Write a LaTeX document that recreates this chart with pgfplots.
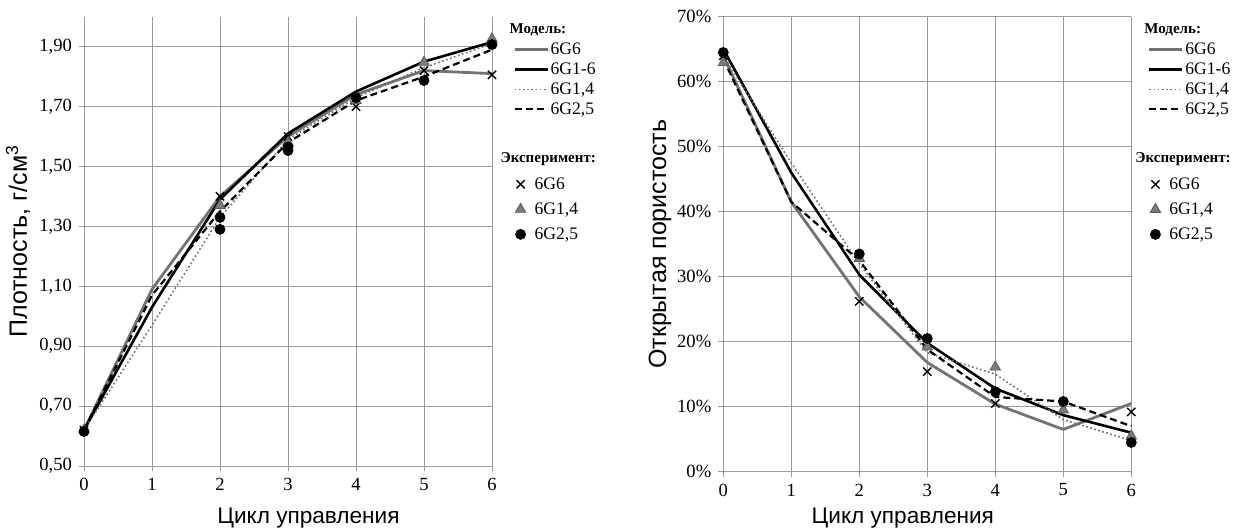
\documentclass[border=0pt]{standalone}
\usepackage{fontspec}
\setmainfont{Liberation Serif}
\setsansfont{Liberation Sans}
\usepackage{pgfplots}
\pgfplotsset{compat=1.18}

\definecolor{modelgray}{HTML}{737373}
\definecolor{dotgray}{HTML}{6E6E6E}
\definecolor{gridgray}{HTML}{9A9A9A}
\definecolor{trigray}{HTML}{5A5A5A}

% legend row struts
\newcommand\hdA{\rule[-3.1pt]{0pt}{9.1pt}}
\newcommand\hdB{\rule[-4.45pt]{0pt}{26.25pt}}
\newcommand\rwM{\rule[-2.2pt]{0pt}{10pt}}
\newcommand\rwE{\rule[-3.45pt]{0pt}{12.5pt}}
\newcommand\hfont{\fontsize{7.5}{8.5}\selectfont\bfseries}

\pgfplotsset{
  chart/.style={
    scale only axis, width=204pt,
    xmin=0, xmax=6, xtick={0,1,2,3,4,5,6},
    grid=major, grid style={gridgray, line width=0.5pt},
    axis x line*=bottom, axis y line*=left,
    axis line style={gridgray, line width=0.5pt, -},
    tick style={gridgray, line width=0.5pt},
    tick align=outside, major tick length=2.5pt,
    tick label style={font=\fontsize{9.3}{11}\selectfont},
    /pgf/number format/assume math mode=true,
    xlabel style={font=\sffamily\fontsize{11.3}{13}\selectfont},
    ylabel style={font=\sffamily\fontsize{12.5}{14}\selectfont},
    legend cell align=left,
    legend style={draw=none, fill=none, inner xsep=0pt, inner ysep=0pt,
      font=\fontsize{8.8}{10}\selectfont, anchor=north west,
      nodes={inner xsep=0.8pt, inner ysep=0pt, text depth=}},
    clip=false,
  },
  mod66/.style={modelgray, line width=1.4pt},
  mod16/.style={black, line width=1.3pt},
  mod14/.style={dotgray, line width=0.8pt, dash pattern=on 0.8pt off 1.3pt},
  mod25/.style={black, line width=1.1pt, dash pattern=on 3.5pt off 2pt},
  exp66/.style={only marks, mark=x, mark size=2.9pt, mark options={black, line width=0.7pt}},
  exp14/.style={only marks, mark=triangle*, mark size=3pt, mark options={draw=trigray, fill=trigray!80}},
  exp25/.style={only marks, mark=*, mark size=2.5pt, mark options={black}},
  lineleg/.style={legend image code/.code={\draw[##1] (0pt,0pt) -- (16.5pt,0pt);}},
  markleg/.style={legend image code/.code={\draw[##1] plot coordinates {(3pt,0pt)};}},
}

\begin{document}
\begin{tikzpicture}
\path[use as bounding box] (0,0) rectangle (623pt,265pt);

% density
\begin{axis}[chart, at={(42pt,32pt)}, anchor=south west,
  height=224.65pt,
  ymin=0.5, ymax=2.0, ytick={0.5,0.7,0.9,1.1,1.3,1.5,1.7,1.9},
  yticklabel style={/pgf/number format/fixed, /pgf/number format/fixed zerofill,
    /pgf/number format/precision=2, /pgf/number format/use comma},
  xlabel={Цикл управления}, ylabel={Плотность, г/см\textsuperscript{3}},
  xlabel style={at={(axis description cs:0.55,-0.116)}, anchor=center},
  ylabel style={at={(axis description cs:-0.162,0.5)}, anchor=center},
  legend style={at={(axis description cs:1.051,0.991)}},
]
\addplot[mod66, forget plot] coordinates {(0,0.62)(1,1.09)(2,1.40)(3,1.60)(4,1.74)(5,1.82)(6,1.81)};
\addplot[mod16, forget plot] coordinates {(0,0.62)(1,1.03)(2,1.39)(3,1.61)(4,1.75)(5,1.85)(6,1.915)};
\addplot[mod14, forget plot] coordinates {(0,0.62)(1,0.97)(2,1.33)(3,1.59)(4,1.73)(5,1.83)(6,1.91)};
\addplot[mod25, forget plot] coordinates {(0,0.62)(1,1.07)(2,1.35)(3,1.58)(4,1.72)(5,1.80)(6,1.89)};
\addplot[exp66, forget plot] coordinates {(0,0.62)(2,1.40)(3,1.60)(4,1.70)(5,1.82)(6,1.806)};
\addplot[exp14, forget plot] coordinates {(0,0.62)(2,1.37)(3,1.58)(4,1.72)(5,1.848)(6,1.926)};
\addplot[exp25, forget plot] coordinates {(0,0.615)(2,1.33)(2,1.29)(3,1.565)(3,1.553)(4,1.73)(5,1.787)(6,1.907)};

\addlegendimage{empty legend}\addlegendentry{\hspace*{-20.5pt}\hdA\hfont Модель:}
\addlegendimage{lineleg, mod66}\addlegendentry{\rwM 6G6}
\addlegendimage{lineleg, mod16}\addlegendentry{\rwM 6G1-6}
\addlegendimage{lineleg, mod14}\addlegendentry{\rwM 6G1,4}
\addlegendimage{lineleg, mod25}\addlegendentry{\rwM 6G2,5}
\addlegendimage{empty legend}\addlegendentry{\hspace*{-25pt}\hdB\hfont Эксперимент:}
\addlegendimage{markleg, exp66}\addlegendentry{\hspace*{-8pt}\rwE 6G6}
\addlegendimage{markleg, exp14}\addlegendentry{\hspace*{-8pt}\rwE 6G1,4}
\addlegendimage{markleg, exp25}\addlegendentry{\hspace*{-8pt}\rwE 6G2,5}
\end{axis}

% open porosity
\begin{axis}[chart, at={(361.65pt,29.15pt)}, anchor=south west,
  height=227.5pt,
  ymin=0, ymax=70, ytick={0,10,20,30,40,50,60,70},
  yticklabel={\pgfmathprintnumber{\tick}\%},
  xlabel={Цикл управления}, ylabel={Открытая пористость},
  xlabel style={at={(axis description cs:0.44,-0.101)}, anchor=center},
  ylabel style={at={(axis description cs:-0.155,0.5)}, anchor=center},
  legend style={at={(axis description cs:1.040,0.991)}},
]
\addplot[mod66, forget plot] coordinates {(0,64)(1,41.5)(2,26.9)(3,16.8)(4,10.4)(5,6.5)(6,10.5)};
\addplot[mod16, forget plot] coordinates {(0,65)(1,46)(2,30.3)(3,19.8)(4,12.8)(5,8.7)(6,6.0)};
\addplot[mod14, forget plot] coordinates {(0,64)(1,47.5)(2,32)(3,18.3)(4,15)(5,8)(6,4.8)};
\addplot[mod25, forget plot] coordinates {(0,63.5)(1,41.5)(2,32.5)(3,18.8)(4,11.5)(5,10.8)(6,7.0)};
\addplot[exp66, forget plot] coordinates {(0,64)(2,26.2)(3,15.4)(4,10.5)(6,9.2)};
\addplot[exp14, forget plot] coordinates {(0,62.9)(2,32.8)(3,19.2)(4,16.1)(5,9.5)(6,5.5)};
\addplot[exp25, forget plot] coordinates {(0,64.5)(2,33.5)(3,20.5)(4,12.3)(5,10.8)(6,4.5)};

\addlegendimage{empty legend}\addlegendentry{\hspace*{-20.5pt}\hdA\hfont Модель:}
\addlegendimage{lineleg, mod66}\addlegendentry{\rwM 6G6}
\addlegendimage{lineleg, mod16}\addlegendentry{\rwM 6G1-6}
\addlegendimage{lineleg, mod14}\addlegendentry{\rwM 6G1,4}
\addlegendimage{lineleg, mod25}\addlegendentry{\rwM 6G2,5}
\addlegendimage{empty legend}\addlegendentry{\hspace*{-25pt}\hdB\hfont Эксперимент:}
\addlegendimage{markleg, exp66}\addlegendentry{\hspace*{-8pt}\rwE 6G6}
\addlegendimage{markleg, exp14}\addlegendentry{\hspace*{-8pt}\rwE 6G1,4}
\addlegendimage{markleg, exp25}\addlegendentry{\hspace*{-8pt}\rwE 6G2,5}
\end{axis}
\end{tikzpicture}
\end{document}
